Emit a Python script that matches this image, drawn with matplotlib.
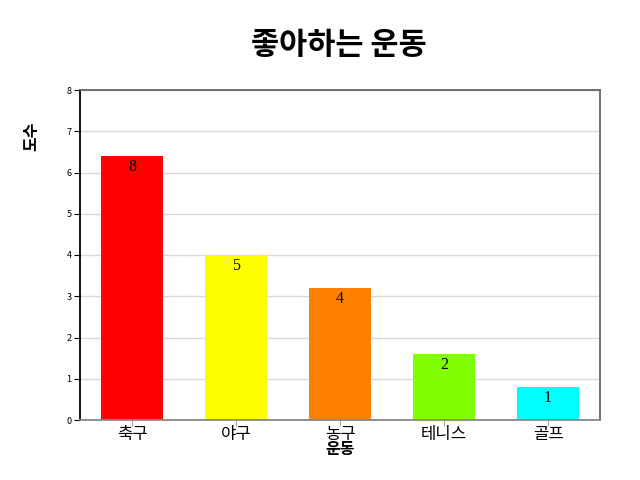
import matplotlib
matplotlib.use("Agg")
import matplotlib.pyplot as plt

plt.rcParams['font.family'] = ['Noto Sans CJK KR', 'DejaVu Sans']

sports = ["축구", "야구", "농구", "테니스", "골프"]
counts = [8, 5, 4, 2, 1]
bar_heights = [6.4, 4.0, 3.2, 1.6, 0.8]
colors = ["#ff0000", "#ffff00", "#ff8000", "#80ff00", "#00ffff"]
yticks = [0, 1, 2, 3, 4, 5, 6, 7, 8]

fig = plt.figure(figsize=(6.4, 4.8), dpi=100)
ax = fig.add_axes([0.125, 0.125, 0.8125, 0.6875])

x = list(range(len(sports)))
ax.bar(x, bar_heights, width=0.6, color=colors, zorder=2)
for xi, h, c in zip(x, bar_heights, counts):
    ax.text(xi, h - 0.08, str(c), ha="center", va="top", fontsize=11.5,
            family="Liberation Serif", zorder=3)

ax.set_xlim(-0.5, len(sports) - 0.5)
ax.set_ylim(0, 8)
ax.set_yticks(yticks)
ax.set_yticklabels([str(t) for t in yticks], fontsize=6.5)
ax.set_xticks(x)
ax.set_xticklabels(sports, fontsize=12)
ax.tick_params(axis="y", length=4, pad=2)
ax.tick_params(axis="x", length=4, pad=0, color="#aaaaaa")
ax.yaxis.grid(True, color="#d9d9d9", linewidth=1, zorder=0)

ax.spines["left"].set_color("#000000")
ax.spines["bottom"].set_color("#888888")
ax.spines["top"].set_color("#666666")
ax.spines["right"].set_color("#666666")
for s in ax.spines.values():
    s.set_linewidth(1.3)

ax.set_xlabel("운동", fontsize=11.5, fontweight="bold")
ax.xaxis.set_label_coords(0.5, -0.065)
ax.set_ylabel("도수", fontsize=11.5, fontweight="bold")
ax.yaxis.set_label_coords(-0.078, 0.86)

fig.text(0.53, 0.907, "좋아하는 운동", ha="center", va="center",
         fontsize=22, fontweight="bold")

fig.savefig("out.png", dpi=100)
